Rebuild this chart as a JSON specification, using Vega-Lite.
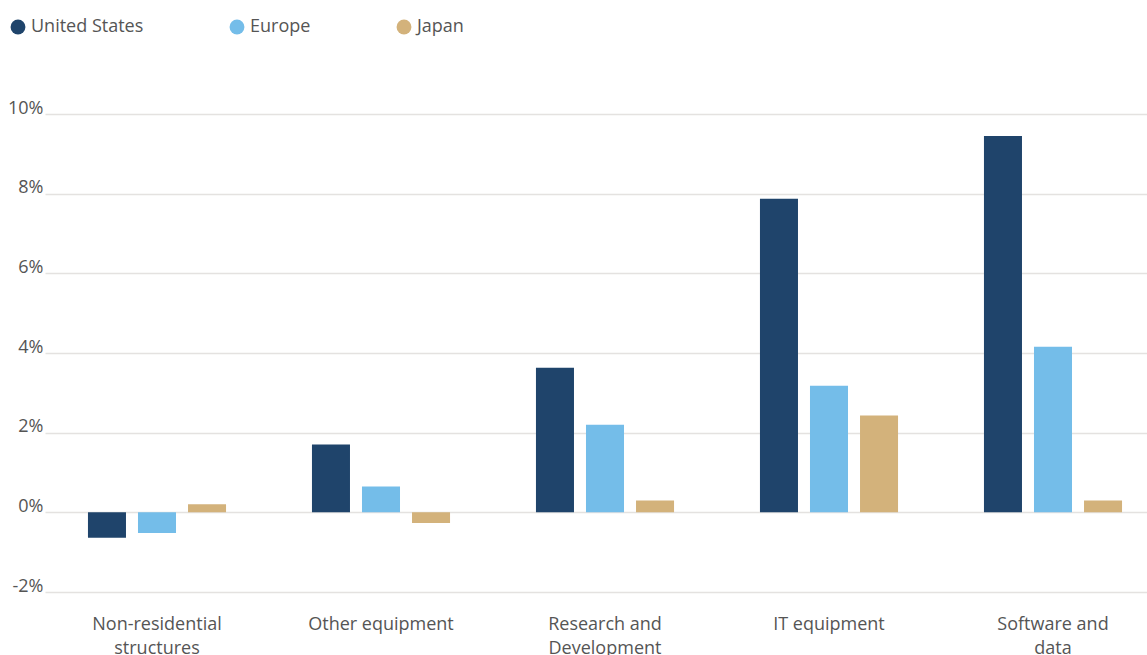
{
  "$schema": "https://vega.github.io/schema/vega-lite/v6.json",
  "width": 1090,
  "height": 478,
  "autosize": {"type": "none"},
  "padding": {"left": 57, "top": 114, "right": 0, "bottom": 63},
  "background": "white",
  "config": {
    "view": {"stroke": null},
    "font": "Open Sans",
    "axis": {"labelFont": "Open Sans", "labelColor": "#555555", "labelFontSize": 18, "gridColor": "#E4E2E0", "gridWidth": 1.5},
    "legend": {"labelFont": "Open Sans", "labelColor": "#555555", "labelFontSize": 18}
  },
  "data": {
    "values": [
      {"category": "Non-residential structures", "region": "United States", "value": -0.64},
      {"category": "Non-residential structures", "region": "Europe", "value": -0.52},
      {"category": "Non-residential structures", "region": "Japan", "value": 0.2},
      {"category": "Other equipment", "region": "United States", "value": 1.7},
      {"category": "Other equipment", "region": "Europe", "value": 0.65},
      {"category": "Other equipment", "region": "Japan", "value": -0.27},
      {"category": "Research and Development", "region": "United States", "value": 3.63},
      {"category": "Research and Development", "region": "Europe", "value": 2.2},
      {"category": "Research and Development", "region": "Japan", "value": 0.3},
      {"category": "IT equipment", "region": "United States", "value": 7.87},
      {"category": "IT equipment", "region": "Europe", "value": 3.18},
      {"category": "IT equipment", "region": "Japan", "value": 2.43},
      {"category": "Software and data", "region": "United States", "value": 9.45},
      {"category": "Software and data", "region": "Europe", "value": 4.16},
      {"category": "Software and data", "region": "Japan", "value": 0.3}
    ]
  },
  "mark": {"type": "bar"},
  "encoding": {
    "x": {
      "field": "category",
      "type": "nominal",
      "sort": ["Non-residential structures", "Other equipment", "Research and Development", "IT equipment", "Software and data"],
      "scale": {"range": [-12, 1108], "paddingInner": 0.33, "paddingOuter": 0.165},
      "axis": {
        "title": null,
        "labelAngle": 0,
        "domain": false,
        "ticks": false,
        "labelPadding": 23,
        "labelLineHeight": 24,
        "labelExpr": "datum.label == 'Non-residential structures' ? ['Non-residential', 'structures'] : datum.label == 'Research and Development' ? ['Research and', 'Development'] : datum.label == 'Software and data' ? ['Software and', 'data'] : datum.label"
      }
    },
    "xOffset": {
      "field": "region",
      "type": "nominal",
      "sort": ["United States", "Europe", "Japan"],
      "scale": {"paddingInner": 0.24, "paddingOuter": 0.12}
    },
    "y": {
      "field": "value",
      "type": "quantitative",
      "scale": {"domain": [-2, 10], "nice": false},
      "axis": {
        "title": null,
        "values": [-2, 0, 2, 4, 6, 8, 10],
        "domain": false,
        "ticks": false,
        "labelPadding": 14,
        "labelBaseline": "alphabetic",
        "labelOffset": -1,
        "labelExpr": "datum.value + '%'"
      }
    },
    "color": {
      "field": "region",
      "type": "nominal",
      "sort": ["United States", "Europe", "Japan"],
      "scale": {"domain": ["United States", "Europe", "Japan"], "range": ["#1F446B", "#74BDE9", "#D3B27B"]},
      "legend": {
        "title": null,
        "orient": "none",
        "direction": "horizontal",
        "legendX": -48,
        "legendY": -96,
        "symbolType": "circle",
        "symbolSize": 220,
        "symbolOpacity": 1,
        "labelOffset": 4,
        "columnPadding": 84
      }
    }
  }
}
